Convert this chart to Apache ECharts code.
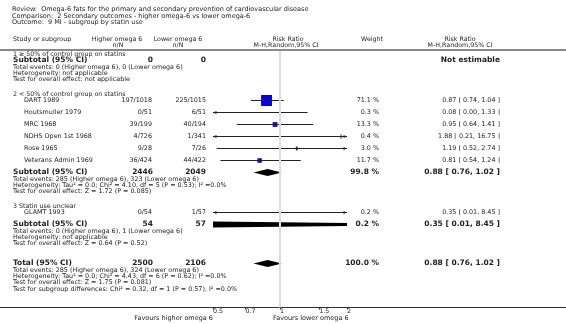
<!DOCTYPE html>
<html>
<head>
<meta charset="utf-8">
<script src="https://cdn.jsdelivr.net/npm/echarts@6/dist/echarts.min.js"></script>
<style>
  html, body { margin: 0; padding: 0; background: #fff; }
  #forestChart { width: 566px; height: 324px; }
</style>
</head>
<body>
<div id="forestChart"></div>
<script>
// ---- data ----
const titleLines = [
  "Review:  Omega-6 fats for the primary and secondary prevention of cardiovascular disease",
  "Comparison:  2 Secondary outcomes - higher omega-6 vs lower omega-6",
  "Outcome:  9 MI - subgroup by statin use",
];
const studyNames = ["DART 1989", "Houtsmuller 1979", "MRC 1968", "NDHS Open 1st 1968", "Rose 1965", "Veterans Admin 1969", "GLAMT 1993"];
const higherEvents = ["197/1018", "0/51", "39/199", "4/726", "9/28", "36/424", "0/54"];
const lowerEvents = ["225/1015", "6/51", "40/194", "1/341", "7/26", "44/422", "1/57"];
const studyWeights = [71.1, 0.3, 13.3, 0.4, 3.0, 11.7, 0.2];
const studyRR = [0.87, 0.08, 0.95, 1.88, 1.19, 0.81, 0.35];
const studyLow = [0.74, 0.0, 0.64, 0.21, 0.52, 0.54, 0.01];
const studyHigh = [1.04, 1.33, 1.41, 16.75, 2.74, 1.24, 8.45];

const subgroupTitles = ["1 \u2265 50% of control group on statins", "2 < 50% of control group on statins", "3 Statin use unclear"];
const subHigherN = ["0", "2446", "54"];
const subLowerN = ["0", "2049", "57"];
const subWeights = [null, 99.8, 0.2];
const subRR = [null, 0.88, 0.35];
const subLow = [null, 0.76, 0.01];
const subHigh = [null, 1.02, 8.45];
const subNotes = [
  ["Total events: 0 (Higher omega 6), 0 (Lower omega 6)", "Heterogeneity: not applicable", "Test for overall effect: not applicable"],
  ["Total events: 285 (Higher omega 6), 323 (Lower omega 6)", "Heterogeneity: Tau\u00b2 = 0.0; Chi\u00b2 = 4.10, df = 5 (P = 0.53); I\u00b2 =0.0%", "Test for overall effect: Z = 1.72 (P = 0.085)"],
  ["Total events: 0 (Higher omega 6), 1 (Lower omega 6)", "Heterogeneity: not applicable", "Test for overall effect: Z = 0.64 (P = 0.52)"],
];
const totalHigherN = "2500";
const totalLowerN = "2106";
const totalWeight = 100.0;
const totalRR = 0.88, totalLow = 0.76, totalHigh = 1.02;
const totalNotes = [
  "Total events: 285 (Higher omega 6), 324 (Lower omega 6)",
  "Heterogeneity: Tau\u00b2 = 0.0; Chi\u00b2 = 4.43, df = 6 (P = 0.62); I\u00b2 =0.0%",
  "Test for overall effect: Z = 1.75 (P = 0.081)",
  "Test for subgroup differences: Chi\u00b2 = 0.32, df = 1 (P = 0.57), I\u00b2 =0.0%",
];
const tickValues = [0.5, 0.7, 1, 1.5, 2];
const favoursLeft = "Favours higher omega 6";
const favoursRight = "Favours lower omega 6";

// ---- layout (pixel rows) ----
const rows = {
  title: [9, 16, 22.5],
  head1: 39, head2: 45.5, rule: 50,
  sgHead: [54, 94, 206],
  study: [100.5, 112.5, 124.5, 136.5, 148.5, 160.5, 212.5],
  subtotal: [60.5, 172.5, 224.5],
  subNote: [67, 179, 231],
  total: 263.5, totalNote: 270,
  noteStep: 6.3,
  axis: 307.5, favours: 318,
};
const FONT = '"DejaVu Sans", Verdana, sans-serif';
const TXT = "#222";
const SZ = { title: 6.5, head: 6.3, body: 6.4, note: 6.4, bold: 7.5 };

const fmtCI = (r, l, h) => r.toFixed(2) + " [ " + l.toFixed(2) + ", " + h.toFixed(2) + " ]";
const fmtW = (w) => w.toFixed(1) + " %";

const texts = [];
const txt = (text, x, y, size, align, bold) => {
  texts.push({
    type: "text",
    silent: true,
    style: {
      text: text, x: x, y: y,
      font: (bold ? "bold " : "") + size + "px " + FONT,
      fill: TXT, textAlign: align || "left", textVerticalAlign: "middle",
    },
  });
};

titleLines.forEach((t, i) => txt(t, 12, rows.title[i], SZ.title));
txt("Study or subgroup", 13, rows.head1, SZ.head);
txt("Higher omega 6", 117, rows.head1, SZ.head, "center");
txt("n/N", 118, rows.head2, SZ.head, "center");
txt("Lower omega 6", 178, rows.head1, SZ.head, "center");
txt("n/N", 178, rows.head2, SZ.head, "center");
txt("Risk Ratio", 288, rows.head1, SZ.head, "center");
txt("M-H,Random,95% CI", 286, rows.head2, SZ.head, "center");
txt("Weight", 372, rows.head1, SZ.head, "center");
txt("Risk Ratio", 460, rows.head1, SZ.head, "center");
txt("M-H,Random,95% CI", 460, rows.head2, SZ.head, "center");

subgroupTitles.forEach((t, g) => {
  txt(t, 13, rows.sgHead[g], SZ.head);
  txt("Subtotal (95% CI)", 13, rows.subtotal[g], SZ.bold, "left", true);
  txt(subHigherN[g], 153, rows.subtotal[g], SZ.bold, "right", true);
  txt(subLowerN[g], 206, rows.subtotal[g], SZ.bold, "right", true);
  if (subRR[g] == null) {
    txt("Not estimable", 500, rows.subtotal[g], SZ.bold, "right", true);
  } else {
    txt(fmtW(subWeights[g]), 379, rows.subtotal[g], SZ.bold, "right", true);
    txt(fmtCI(subRR[g], subLow[g], subHigh[g]), 500, rows.subtotal[g], SZ.bold, "right", true);
  }
  subNotes[g].forEach((n, k) => txt(n, 13, rows.subNote[g] + k * rows.noteStep, SZ.note));
});

studyNames.forEach((n, i) => {
  const y = rows.study[i];
  txt(n, 24, y, SZ.body);
  txt(higherEvents[i], 152, y, SZ.body, "right");
  txt(lowerEvents[i], 206, y, SZ.body, "right");
  txt(fmtW(studyWeights[i]), 379, y, SZ.body, "right");
  txt(fmtCI(studyRR[i], studyLow[i], studyHigh[i]), 500, y, SZ.body, "right");
});

txt("Total (95% CI)", 13, rows.total, SZ.bold, "left", true);
txt(totalHigherN, 153, rows.total, SZ.bold, "right", true);
txt(totalLowerN, 206, rows.total, SZ.bold, "right", true);
txt(fmtW(totalWeight), 379, rows.total, SZ.bold, "right", true);
txt(fmtCI(totalRR, totalLow, totalHigh), 500, rows.total, SZ.bold, "right", true);
totalNotes.forEach((n, k) => txt(n, 13, rows.totalNote + k * rows.noteStep, SZ.note));

txt(favoursLeft, 213, rows.favours, 6.5, "right");
txt(favoursRight, 273, rows.favours, 6.5, "left");

const rules = [
  { type: "line", silent: true, shape: { x1: 0, y1: rows.rule, x2: 566, y2: rows.rule }, style: { stroke: "#8a8a8a", lineWidth: 2 } },
  { type: "line", silent: true, shape: { x1: 0, y1: rows.axis, x2: 566, y2: rows.axis }, style: { stroke: "#333", lineWidth: 1 } },
];

// ---- marks ----
const X_MIN = Math.log(tickValues[0]);
const X_MAX = Math.log(tickValues[tickValues.length - 1]);
const studyData = studyRR.map((r, i) => [r, studyLow[i], studyHigh[i], rows.study[i], studyWeights[i]]);
const diamondData = [];
subRR.forEach((r, g) => { if (r != null) diamondData.push([r, subLow[g], subHigh[g], rows.subtotal[g]]); });
diamondData.push([totalRR, totalLow, totalHigh, rows.total]);

const renderStudy = (params, api) => {
  const est = Math.log(api.value(0));
  const lo = Math.log(api.value(1));
  const hi = Math.log(api.value(2));
  const row = api.value(3);
  const side = 1.3 * Math.sqrt(api.value(4));
  const y = api.coord([0, row])[1];
  const xL = api.coord([Math.max(lo, X_MIN), row])[0];
  const xR = api.coord([Math.min(hi, X_MAX), row])[0];
  const kids = [];
  const inside = est > X_MIN && est < X_MAX;
  const xe = api.coord([est, row])[0];
  if (inside) {
    kids.push({ type: "rect", shape: { x: xe - side / 2, y: y - side / 2, width: side, height: side }, style: { fill: "#0000ff" } });
  }
  kids.push({ type: "line", shape: { x1: xL, y1: y, x2: xR, y2: y }, style: { stroke: "#222", lineWidth: 1 } });
  if (inside) {
    kids.push({ type: "line", shape: { x1: xe, y1: y - 2.2, x2: xe, y2: y + 2.2 }, style: { stroke: "#222", lineWidth: 1 } });
  }
  if (lo < X_MIN) {
    kids.push({ type: "polygon", shape: { points: [[xL, y], [xL + 3.5, y - 1.6], [xL + 3.5, y + 1.6]] }, style: { fill: "#222" } });
  }
  if (hi > X_MAX) {
    kids.push({ type: "polygon", shape: { points: [[xR, y], [xR - 3.5, y - 1.6], [xR - 3.5, y + 1.6]] }, style: { fill: "#222" } });
  }
  return { type: "group", children: kids };
};

const renderDiamond = (params, api) => {
  const row = api.value(3);
  const pMid = api.coord([Math.log(api.value(0)), row]);
  const pLo = api.coord([Math.log(api.value(1)), row]);
  const pHi = api.coord([Math.log(api.value(2)), row]);
  const h = 3.5;
  return {
    type: "polygon",
    shape: { points: [[pLo[0], pMid[1]], [pMid[0], pMid[1] - h], [pHi[0], pMid[1]], [pMid[0], pMid[1] + h]] },
    style: { fill: "#000" },
  };
};

let forestChart = null;
const setOption = () => {
  forestChart.setOption({
    animation: false,
    grid: { left: 213, right: 219, top: 51, bottom: 324 - rows.axis },
    xAxis: {
      type: "value",
      min: X_MIN,
      max: X_MAX,
      axisLine: { show: false },
      splitLine: { show: false },
      axisTick: {
        show: true,
        length: 2,
        customValues: tickValues.map(Math.log),
        lineStyle: { color: "#333" },
      },
      axisLabel: {
        customValues: tickValues.map(Math.log),
        formatter: (v) => {
          const t = tickValues.find((k) => Math.abs(Math.log(k) - v) < 1e-6);
          return t == null ? "" : String(t);
        },
        fontFamily: "DejaVu Sans",
        fontSize: 6.3,
        color: TXT,
        margin: 1,
        align: "left",
      },
    },
    yAxis: { type: "value", min: 51, max: rows.axis, inverse: true, show: false },
    graphic: rules.concat(texts),
    series: [
      {
        type: "custom",
        renderItem: renderStudy,
        data: studyData,
        z: 3,
        markLine: {
          silent: true,
          symbol: ["none", "none"],
          label: { show: false },
          lineStyle: { color: "#dcdcdc", width: 2, type: "solid" },
          data: [{ xAxis: 0 }],
        },
      },
      {
        type: "custom",
        renderItem: renderDiamond,
        data: diamondData,
        clip: true,
        z: 4,
      },
    ],
  });
};

forestChart = echarts.init(document.getElementById("forestChart"));
setOption();
window.addEventListener("resize", () => {
  forestChart.resize();
});
</script>
</body>
</html>
